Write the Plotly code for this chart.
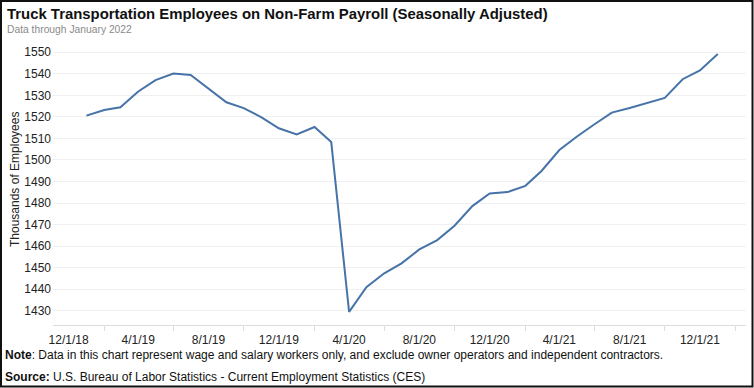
import plotly.graph_objects as go

# ---- data ----
dates = [
    "2019-01-01", "2019-02-01", "2019-03-01", "2019-04-01", "2019-05-01", "2019-06-01",
    "2019-07-01", "2019-08-01", "2019-09-01", "2019-10-01", "2019-11-01", "2019-12-01",
    "2020-01-01", "2020-02-01", "2020-03-01", "2020-04-01", "2020-05-01", "2020-06-01",
    "2020-07-01", "2020-08-01", "2020-09-01", "2020-10-01", "2020-11-01", "2020-12-01",
    "2021-01-01", "2021-02-01", "2021-03-01", "2021-04-01", "2021-05-01", "2021-06-01",
    "2021-07-01", "2021-08-01", "2021-09-01", "2021-10-01", "2021-11-01", "2021-12-01",
    "2022-01-01",
]
employees = [
    1520.6, 1523.2, 1524.5, 1531.8, 1537.1, 1540.1,
    1539.5, 1533.2, 1526.8, 1524.1, 1519.8, 1514.7,
    1511.9, 1515.3, 1508.3, 1429.5, 1441.0, 1447.4,
    1452.0, 1458.5, 1462.8, 1469.5, 1478.6, 1484.5,
    1485.1, 1488.0, 1494.9, 1504.6, 1510.8, 1516.6,
    1522.0, 1524.1, 1526.5, 1528.8, 1537.5, 1541.6,
    1549.2,
]
x_tick_vals = ["2018-12-01", "2019-04-01", "2019-08-01", "2019-12-01", "2020-04-01",
               "2020-08-01", "2020-12-01", "2021-04-01", "2021-08-01", "2021-12-01"]
x_tick_text = ["12/1/18", "4/1/19", "8/1/19", "12/1/19", "4/1/20",
               "8/1/20", "12/1/20", "4/1/21", "8/1/21", "12/1/21"]
x_minor_ticks = ["2019-02-01", "2019-06-01", "2019-10-01", "2020-02-01", "2020-06-01",
                 "2020-10-01", "2021-02-01", "2021-06-01", "2021-10-01", "2022-02-01"]
y_tick_vals = [1430, 1440, 1450, 1460, 1470, 1480, 1490, 1500, 1510, 1520, 1530, 1540, 1550]

title = "Truck Transportation Employees on Non-Farm Payroll (Seasonally Adjusted)"
subtitle = "Data through January 2022"
y_title = "Thousands of Employees"
note = "<b>Note</b>: Data in this chart represent wage and salary workers only, and exclude owner operators and independent contractors."
source = "<b>Source:</b> U.S. Bureau of Labor Statistics - Current Employment Statistics (CES)"

FONT = "Arial, Liberation Sans, sans-serif"

fig = go.Figure()
fig.add_trace(go.Scatter(
    x=dates, y=employees, mode="lines",
    line=dict(color="#4673A8", width=2),
    hoverinfo="x+y", showlegend=False,
))

W, H = 754, 388
L, R, T, B = 53, 8, 40, 63
pw, ph = W - L - R, H - T - B

def px_x(p):
    return (p - L) / pw

def px_y(p):
    return (H - B - p) / ph

fig.update_layout(
    width=W, height=H,
    margin=dict(l=L, r=R, t=T, b=B),
    paper_bgcolor="white", plot_bgcolor="white",
    font=dict(family=FONT, size=12, color="#222222"),
    xaxis=dict(
        type="date",
        range=["2018-11-04", "2022-02-19"],
        tickmode="array", tickvals=x_tick_vals, ticktext=x_tick_text,
        ticks="", showgrid=False,
        showline=True, linecolor="#dcdcdc", linewidth=1,
        tickfont=dict(family=FONT, size=12, color="#222222"),
        ticklabelstandoff=4,
        minor=dict(tickmode="array", tickvals=x_minor_ticks, ticks="outside",
                   ticklen=5, tickcolor="#dcdcdc", showgrid=False),
        zeroline=False, fixedrange=True,
    ),
    yaxis=dict(
        range=[1423.4, 1555.7],
        tickmode="array", tickvals=y_tick_vals,
        showgrid=True, gridcolor="#f0f0f0", gridwidth=1,
        ticks="", showline=False, zeroline=False,
        tickfont=dict(family=FONT, size=12, color="#222222"),
        ticklabelstandoff=1,
        fixedrange=True,
    ),
)

annotations = [
    dict(text="<b>" + title + "</b>", x=px_x(5), y=px_y(14), xanchor="left", yanchor="middle",
         font=dict(family=FONT, size=14.9, color="#111111")),
    dict(text=subtitle, x=px_x(5), y=px_y(29), xanchor="left", yanchor="middle",
         font=dict(family=FONT, size=10.3, color="#8a8a8a")),
    dict(text=y_title, x=px_x(15), y=px_y(180), xanchor="center", yanchor="middle",
         textangle=-90, font=dict(family=FONT, size=12, color="#222222")),
    dict(text=note, x=px_x(3), y=px_y(355), xanchor="left", yanchor="middle",
         font=dict(family=FONT, size=12, color="#111111")),
    dict(text=source, x=px_x(3), y=px_y(377), xanchor="left", yanchor="middle",
         font=dict(family=FONT, size=12, color="#111111")),
]
for a in annotations:
    a.update(xref="paper", yref="paper", showarrow=False)
fig.update_layout(annotations=annotations)

fig.add_shape(type="rect", xref="paper", yref="paper",
              x0=px_x(1), x1=px_x(752.5), y0=px_y(386.5), y1=px_y(1),
              line=dict(color="#111111", width=2), fillcolor="rgba(0,0,0,0)", layer="above")

fig.write_html(
    "out.html",
    config={"displayModeBar": False},
    post_script="document.body.style.margin='0';document.body.style.overflow='hidden';",
)
